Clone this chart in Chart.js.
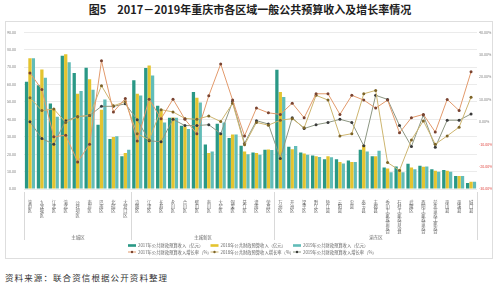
<!DOCTYPE html>
<html>
<head>
<meta charset="utf-8">
<script src="https://cdn.jsdelivr.net/npm/chart.js@4.4.0/dist/chart.umd.min.js"></script>
<style>
  body { margin: 0; width: 500px; height: 285px; background: #fff; position: relative; overflow: hidden; font-family: "Noto Sans CJK SC", sans-serif; }
  #title { position: absolute; left: 0; top: 1px; width: 500px; text-align: center; font-size: 11px; font-weight: bold; color: #1e1e1e; line-height: 16px; }
  #frame { position: absolute; left: 5px; top: 21px; width: 488px; height: 238px; border: 1px solid #dedede; box-sizing: border-box; }
  #source { position: absolute; left: 5px; top: 270px; font-size: 8.5px; letter-spacing: 1.1px; color: #333; line-height: 14px; }
</style>
</head>
<body>
<div id="title">图5　2017－2019年重庆市各区域一般公共预算收入及增长率情况</div>
<div id="frame"><canvas id="chart" width="486" height="236"></canvas></div>
<div id="source">资料来源：联合资信根据公开资料整理</div>
<script>
// categories
const districts = [
    '渝中区', '九龙坡区', '江北区', '渝北区', '沙坪坝区', '南岸区', '巴南区', '北碚区', '大渡口区',
    '涪陵区', '江津区', '长寿区', '永川区', '合川区', '璧山区', '南川区', '大足区', '铜梁区', '綦江区', '潼南区', '荣昌区',
    '万州区', '开州区', '梁平区', '黔江区', '垫江县', '云阳县', '忠县', '奉节县', '丰都县',
    '秀山土家族苗族自治县', '石柱土家族自治县', '武隆区', '酉阳土家族苗族自治县', '彭水苗族土家族自治县', '巫山县', '巫溪县', '城口县'
];
const groups = ['主城区', '主城新区', '渝东区'];
const groupSizes = [9, 12, 17];

// revenue, 亿元
const revenue2017 = [61.5, 59.6, 49.1, 76.4, 66.6, 69.6, 36.8, 28.7, 18.8,
    62.4, 69.4, 47.7, 40.9, 36.3, 55.6, 25.6, 37.5, 29.3, 24.8, 21.0, 22.5,
    68.5, 24.3, 21.0, 19.2, 17.0, 17.0, 16.4, 22.5, 18.8, 12.3, 12.9, 14.5, 13.3, 11.4, 10.9, 7.4, 3.5];
const revenue2018 = [75.0, 68.6, 46.0, 77.3, 54.7, 63.0, 45.5, 29.8, 20.6,
    54.7, 70.8, 45.5, 41.0, 35.7, 52.3, 20.6, 31.6, 31.3, 21.5, 20.6, 22.6,
    55.6, 22.8, 20.3, 18.8, 18.8, 15.5, 15.5, 25.2, 18.8, 11.8, 11.4, 12.3, 12.7, 10.5, 10.5, 7.4, 4.1];
const revenue2019 = [75.0, 63.9, 41.4, 72.7, 56.2, 56.9, 51.4, 30.2, 22.5,
    53.7, 65.2, 38.1, 40.9, 34.4, 49.7, 21.5, 38.1, 31.3, 20.0, 19.7, 22.4,
    52.8, 24.7, 19.7, 18.4, 18.2, 14.7, 15.5, 21.5, 21.9, 9.6, 9.6, 11.4, 12.9, 9.9, 9.9, 7.4, 4.1];

// growth rate, %
const growth2017 = [21.8, 14.4, -6.7, -6.0, -17.9, -10.0, 27.2, 4.4, 10.4,
    -8.6, 10.1, 1.4, 10.1, 1.1, -5.3, 11.6, 25.8, 9.7, -6.3, 6.1, 4.0,
    3.3, 8.3, 1.8, 12.5, 12.5, 3.3, 11.8, 9.7, 6.1, 9.7, -4.9, 1.8, 3.3, -4.6, 10.0, 5.0, 22.3];
const growth2018 = [10.7, 5.0, 5.7, -0.3, 2.3, 2.8, 16.1, 7.1, 9.0,
    -5.3, -8.1, 5.4, 4.4, 1.5, 1.1, 2.6, 0.1, 8.3, -10.3, -0.3, -1.5,
    0.7, 1.4, -2.7, 11.8, 9.7, -6.3, -5.3, 12.5, 14.0, -18.2, -21.7, -8.1, 0.4, -10.0, -6.3, -2.4, 11.0];
const growth2019 = [0.0, -7.5, -10.0, 0.5, 2.3, 2.8, 6.9, 6.9, 8.0,
    0.9, -8.5, -8.9, 1.1, -1.7, -1.7, -1.3, -5.3, 9.0, -9.6, 0.5, -1.0,
    -16.4, 1.8, -3.0, -1.3, -0.3, 1.1, -0.3, -10.7, 11.8, 10.0, -1.7, -11.0, 3.0, -11.4, 0.7, 0.7, 3.5];

// tick labels
const revenueTicks = [0, 10, 20, 30, 40, 50, 60, 70, 80, 90];
const growthTicks = [-30, -20, -10, 0, 10, 20, 30, 40];

const barLabels = ['2017年公共财政预算收入（亿元）', '2018年公共财政预算收入（亿元）', '2019年公共财政预算收入（亿元）'];
const lineLabels = ['2017年公共财政预算收入增长率（%）', '2018年公共财政预算收入增长率（%）', '2019年公共财政预算收入增长率（%）'];

const font = '"Noto Sans CJK SC", sans-serif';

// group separators, group names and the legend
const extrasPlugin = {
    id: 'extras',
    afterDraw(chart) {
        const ctx = chart.ctx;
        const xs = chart.scales.x;
        const area = chart.chartArea;
        ctx.save();
        ctx.strokeStyle = '#d9d9d9';
        ctx.lineWidth = 1;
        ctx.fillStyle = '#666';
        ctx.font = '4.5px ' + font;
        ctx.textAlign = 'center';
        ctx.textBaseline = 'middle';
        let start = 0;
        groups.forEach((name, i) => {
            const end = start + groupSizes[i];
            const x0 = Math.round(xs.getPixelForValue(start - 0.5)) + 0.5;
            const x1 = Math.round(xs.getPixelForValue(end - 0.5)) + 0.5;
            ctx.beginPath();
            ctx.moveTo(x0, area.bottom + 3);
            ctx.lineTo(x0, area.bottom + 51);
            if (i === groups.length - 1) {
                ctx.moveTo(x1, area.bottom + 3);
                ctx.lineTo(x1, area.bottom + 51);
            }
            ctx.stroke();
            ctx.fillText(name, (x0 + x1) / 2, area.bottom + 48);
            start = end;
        });

        // legend
        const ds = chart.data.datasets;
        const cx = chart.width / 2;
        ctx.textAlign = 'left';
        ctx.font = '4.3px ' + font;
        ds.forEach((d, i) => {
            const col = i % 3;
            const row = Math.floor(i / 3);
            const x = cx - 121 + col * 82.5;
            const y = area.bottom + 56.5 + row * 6.5;
            if (d.type === 'bar') {
                ctx.fillStyle = d.backgroundColor;
                ctx.fillRect(x, y - 1.3, 8, 2.6);
            } else {
                ctx.strokeStyle = d.borderColor;
                ctx.lineWidth = 1;
                ctx.beginPath();
                ctx.moveTo(x, y);
                ctx.lineTo(x + 8, y);
                ctx.stroke();
                ctx.fillStyle = d.pointBackgroundColor;
                ctx.beginPath();
                ctx.arc(x + 4, y, 1.2, 0, Math.PI * 2);
                ctx.fill();
            }
            ctx.fillStyle = '#666';
            ctx.fillText(d.label, x + 10, y);
        });
        ctx.restore();
    }
};

function lineSet(label, data, color, pointColor) {
    return {
        type: 'line', label, data, yAxisID: 'y1', order: 0,
        borderColor: color, borderWidth: 1, tension: 0,
        pointRadius: 1.5, pointBackgroundColor: pointColor, pointBorderColor: pointColor, pointBorderWidth: 0
    };
}

function barSet(label, data, color) {
    return {
        type: 'bar', label, data, yAxisID: 'y', order: 1,
        backgroundColor: color, borderWidth: 0,
        categoryPercentage: 0.86, barPercentage: 0.96
    };
}

new Chart(document.getElementById('chart'), {
    data: {
        labels: districts.map(n => n.split('')),
        datasets: [
            barSet(barLabels[0], revenue2017, '#2a9886'),
            barSet(barLabels[1], revenue2018, '#e4c42f'),
            barSet(barLabels[2], revenue2019, '#62bcb8'),
            lineSet(lineLabels[0], growth2017, '#e29a6c', '#7a4330'),
            lineSet(lineLabels[1], growth2018, '#cdb56f', '#7d6428'),
            lineSet(lineLabels[2], growth2019, '#8d9783', '#3a3a3a')
        ]
    },
    options: {
        responsive: false,
        animation: false,
        layout: { padding: { left: 0, right: 0, top: 4, bottom: 24 } },
        plugins: {
            legend: { display: false },
            tooltip: { enabled: false }
        },
        scales: {
            x: {
                grid: { display: false },
                border: { display: false },
                ticks: {
                    autoSkip: false, maxRotation: 0, minRotation: 0, padding: 3,
                    color: '#666', font: { size: 4.3, family: font, lineHeight: 1 }
                },
                afterFit(scale) { scale.height = 45; }
            },
            y: {
                position: 'left',
                min: revenueTicks[0],
                max: revenueTicks[revenueTicks.length - 1],
                afterBuildTicks(scale) { scale.ticks = revenueTicks.map(v => ({ value: v })); },
                grid: { color: '#e6e6e6', lineWidth: 0.8, drawTicks: false },
                border: { display: false },
                ticks: {
                    padding: 8, color: '#808080',
                    font: { size: 3.6, family: font },
                    callback: v => v.toFixed(2)
                },
                afterFit(scale) { scale.width = 18; }
            },
            y1: {
                position: 'right',
                min: growthTicks[0],
                max: growthTicks[growthTicks.length - 1],
                afterBuildTicks(scale) { scale.ticks = growthTicks.map(v => ({ value: v })); },
                grid: { display: false, drawTicks: false },
                border: { display: false },
                ticks: {
                    padding: 2,
                    color: c => (c.tick && c.tick.value < 0) ? '#e0453f' : '#808080',
                    font: { size: 3.6, family: font },
                    callback: v => v.toFixed(2) + '%'
                },
                afterFit(scale) { scale.width = 15; }
            }
        }
    },
    plugins: [extrasPlugin]
});
</script>
</body>
</html>
